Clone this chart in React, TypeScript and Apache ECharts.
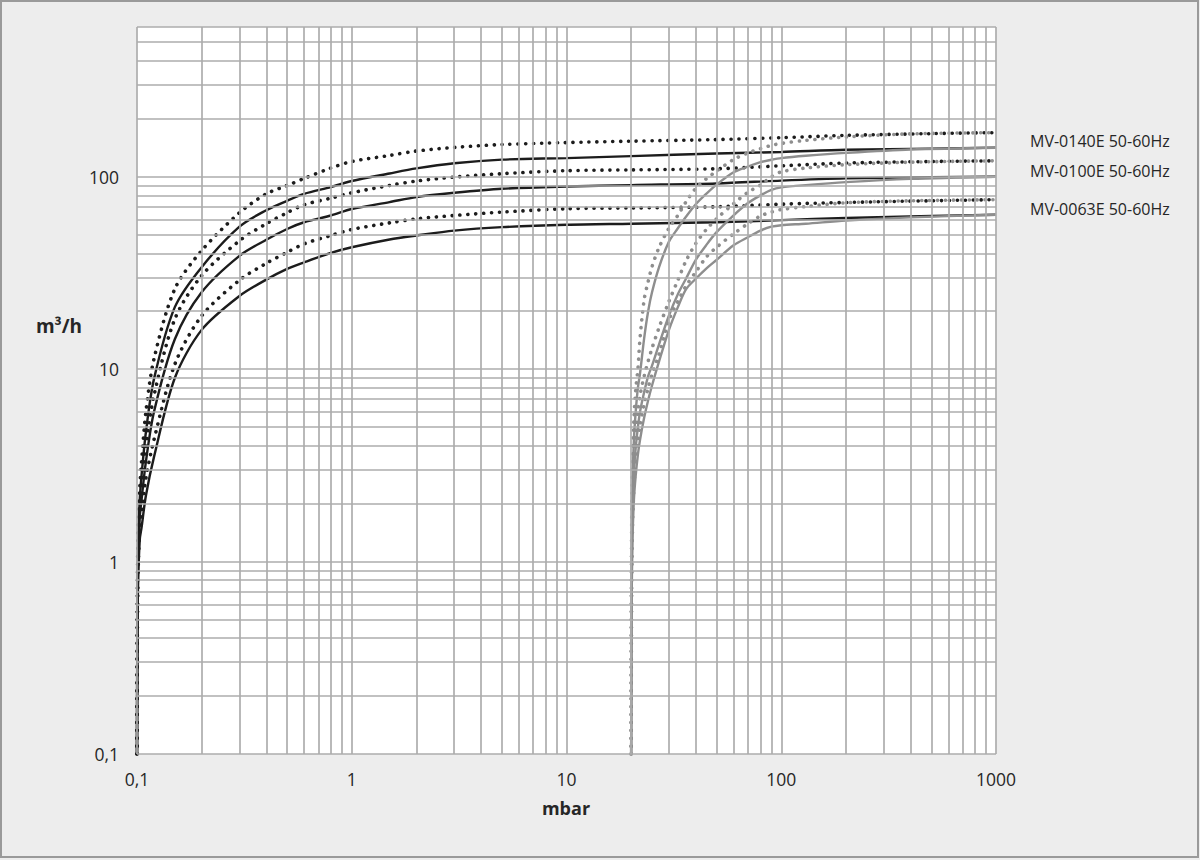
import React, { useEffect, useRef } from "react";
import * as echarts from "echarts";

// ---- pressure values (mbar) ----
const pBlack = [0.1, 0.1003, 0.101, 0.103, 0.105, 0.11, 0.12, 0.15, 0.2, 0.3, 0.4, 0.5, 0.6, 0.8, 1, 1.5, 2, 3, 5, 10, 20, 50, 100, 200, 500, 1000];
const pGray = [20, 20.1, 20.3, 20.6, 21, 21.5, 22, 23, 24, 25, 27, 30, 33, 36, 40, 45, 50, 60, 70, 80, 90, 100, 130, 200, 400, 1000];

// ---- pumping speed (m3/h), black curves ----
const mv140Dot = [0.1, 0.5, 1.3, 2.4, 3.3, 6, 11.3, 26.1, 41.3, 65, 81.5, 90, 98, 111, 120, 129, 136, 142, 147, 150.5, 153, 156, 159.5, 164, 167.5, 169.5];
const mv140Sol = [0.1, 0.45, 1.15, 2.1, 2.8, 4.7, 8.9, 21, 33.9, 55, 67, 75, 81.5, 88.4, 95, 104, 110.5, 117.5, 122.7, 125, 128, 132, 134.5, 138, 140, 141.6];
const mv100Dot = [0.1, 0.4, 1.0, 1.9, 2.5, 4.0, 7.3, 18.2, 30.6, 46.5, 57, 65, 71.5, 77.4, 82.5, 90.1, 95, 99.6, 103.7, 107.5, 108.5, 110, 114, 117.8, 120, 121];
const mv100Sol = [0.1, 0.35, 0.9, 1.7, 2.1, 3.3, 6.0, 14.3, 25.1, 38.8, 47, 53.5, 58, 62.9, 68, 73.8, 78.4, 82.5, 86.6, 89, 90.5, 92.3, 95.5, 98, 99.5, 100];
const mv063Dot = [0.1, 0.32, 0.8, 1.5, 1.8, 2.7, 4.3, 10.6, 18.9, 29, 35.5, 40.5, 44.8, 49.5, 53.2, 57.6, 60.4, 62.9, 65.5, 68.2, 68.8, 69.8, 72, 73.5, 75, 76];
const mv063Sol = [0.1, 0.28, 0.7, 1.3, 1.5, 2.2, 3.5, 9.0, 16.0, 24, 29.2, 33.2, 35.9, 40.2, 43.0, 47.2, 49.5, 52.5, 54.7, 56.3, 57, 58, 59.5, 61, 62.5, 63.5];

// ---- pumping speed (m3/h), gray curves ----
const mv140DotG = [0.1, 1.5, 3.3, 5.5, 7.8, 10, 14.5, 23, 28.5, 34, 43, 54, 63, 74, 87, 98, 107, 123, 133, 140, 145.5, 149, 154.5, 161, 167, 169.5];
const mv140SolG = [0.1, 1.2, 2.6, 4.3, 6.0, 8.0, 9.5, 14.5, 20, 25, 34, 46, 54, 62, 72, 82, 91, 105.5, 113, 119, 122.5, 125, 128.5, 133, 138.5, 141.5];
const mv100DotG = [0.1, 1.0, 2.1, 3.4, 4.6, 6.0, 7.3, 9.2, 11, 12.8, 16.5, 22.5, 29, 36.5, 45, 53.5, 60.5, 72.5, 83, 90.5, 100, 106, 111, 115.5, 119, 121];
const mv100SolG = [0.1, 0.85, 1.8, 2.9, 3.9, 5.0, 6.0, 7.6, 9.2, 10.4, 13.5, 19, 24.5, 29.5, 37, 44.5, 51.5, 63, 73, 80, 85.5, 88, 90.5, 93.8, 97.5, 100];
const mv063DotG = [0.1, 0.7, 1.5, 2.4, 3.3, 4.2, 5.1, 6.6, 8.0, 9.4, 12, 18, 22.5, 27, 32, 38.5, 43, 50.5, 57, 62.5, 65.5, 67.5, 70, 73.2, 75, 76];
const mv063SolG = [0.1, 0.6, 1.3, 2.1, 2.8, 3.6, 4.3, 5.6, 6.9, 8.2, 11, 16, 21, 26, 29.5, 33.5, 37, 44, 48.5, 52.5, 55, 56, 57, 59.2, 61.5, 63.5];

// ---- grid lines ----
const xGrid = [0.1, 0.2, 0.3, 0.4, 0.5, 0.6, 0.7, 0.8, 0.9, 1, 2, 3, 4, 5, 6, 7, 8, 9, 10, 20, 30, 40, 50, 60, 70, 80, 90, 100, 200, 300, 400, 500, 600, 700, 800, 900, 1000];
const yGrid = [0.1, 0.2, 0.3, 0.4, 0.5, 0.6, 0.7, 0.8, 0.9, 1, 2, 3, 4, 5, 6, 7, 8, 9, 10, 20, 30, 40, 50, 60, 70, 80, 90, 100, 200, 300, 400, 500, 600];

const legendLabels = ["MV-0140E 50-60Hz", "MV-0100E 50-60Hz", "MV-0063E 50-60Hz"];

const FONT = "'Open Sans', 'Noto Sans', sans-serif";
const BLACK = "#1c1c1c";
const GRAY = "#8e8e8e";

const zip = (xs: number[], ys: number[]) => xs.map((x, i) => [x, ys[i]]);

function curve(name: string, xs: number[], ys: number[], color: string, dotted: boolean, z: number) {
  return {
    name,
    type: "line",
    data: zip(xs, ys),
    showSymbol: false,
    symbol: "none",
    smooth: 0.3,
    silent: true,
    z,
    lineStyle: dotted
      ? { color, width: 3.6, type: [0.1, 7.8], cap: "round" }
      : { color, width: 2.4, type: "solid" },
  };
}

function fmtPow10(v: number) {
  const l = Math.log10(v);
  if (Math.abs(l - Math.round(l)) > 1e-6) return "";
  return v < 1 ? "0,1" : String(Math.round(v));
}

export default function App() {
  const ref = useRef<HTMLDivElement>(null);
  useEffect(() => {
    const chart = echarts.init(ref.current!, null, { renderer: "svg" });
    const option: any = {
      animation: false,
      backgroundColor: "#ededed",
      grid: {
        left: 137,
        top: 27,
        width: 859,
        height: 727,
        show: true,
        backgroundColor: "#ffffff",
        borderWidth: 0,
        containLabel: false,
      },
      xAxis: {
        type: "log",
        logBase: 10,
        min: 0.1,
        max: 1000,
        axisLine: { show: false },
        axisTick: { show: false },
        splitLine: { show: false },
        minorSplitLine: { show: false },
        axisLabel: {
          formatter: fmtPow10,
          fontFamily: FONT,
          fontSize: 17.5,
          color: "#262626",
          margin: 16,
        },
      },
      yAxis: {
        type: "log",
        logBase: 10,
        min: 0.1,
        max: 600,
        axisLine: { show: false },
        axisTick: { show: false },
        splitLine: { show: false },
        axisLabel: {
          formatter: fmtPow10,
          fontFamily: FONT,
          fontSize: 17.5,
          color: "#262626",
          margin: 18,
          showMaxLabel: false,
        },
      },
      graphic: [
        {
          type: "rect",
          shape: { x: 1, y: 1, width: 1197, height: 856 },
          style: { fill: "none", stroke: "#9a9a9a", lineWidth: 2 },
          silent: true,
        },
        {
          type: "text",
          x: 59,
          y: 326,
          style: {
            text: "m³/h",
            font: `bold 19px ${FONT}`,
            fill: "#262626",
            textAlign: "center",
            textVerticalAlign: "middle",
          },
        },
        {
          type: "text",
          x: 566,
          y: 808,
          style: {
            text: "mbar",
            font: `bold 18px ${FONT}`,
            fill: "#262626",
            textAlign: "center",
            textVerticalAlign: "middle",
          },
        },
        ...legendLabels.map((t, i) => ({
          type: "text",
          x: 1030,
          y: [141, 171, 209][i],
          style: {
            text: t,
            font: `16px ${FONT}`,
            fill: "#262626",
            textAlign: "left",
            textVerticalAlign: "middle",
          },
        })),
      ],
      series: [
        {
          type: "line",
          data: [[0.1, 0.1]],
          symbol: "none",
          showSymbol: false,
          lineStyle: { opacity: 0 },
          silent: true,
          z: 1,
          markLine: {
            silent: true,
            symbol: ["none", "none"],
            label: { show: false },
            lineStyle: { color: "#adadad", width: 1.7, type: "solid" },
            emphasis: { disabled: true },
            data: [
              ...xGrid.map((v) => ({ xAxis: v })),
              ...yGrid.map((v) => ({ yAxis: v })),
            ],
          },
        },
        curve("MV-0140E 60Hz", pBlack, mv140Dot, BLACK, true, 3),
        curve("MV-0140E 50Hz", pBlack, mv140Sol, BLACK, false, 3),
        curve("MV-0100E 60Hz", pBlack, mv100Dot, BLACK, true, 3),
        curve("MV-0100E 50Hz", pBlack, mv100Sol, BLACK, false, 3),
        curve("MV-0063E 60Hz", pBlack, mv063Dot, BLACK, true, 3),
        curve("MV-0063E 50Hz", pBlack, mv063Sol, BLACK, false, 3),
        curve("MV-0140E 60Hz GB", pGray, mv140DotG, GRAY, true, 4),
        curve("MV-0140E 50Hz GB", pGray, mv140SolG, GRAY, false, 4),
        curve("MV-0100E 60Hz GB", pGray, mv100DotG, GRAY, true, 4),
        curve("MV-0100E 50Hz GB", pGray, mv100SolG, GRAY, false, 4),
        curve("MV-0063E 60Hz GB", pGray, mv063DotG, GRAY, true, 4),
        curve("MV-0063E 50Hz GB", pGray, mv063SolG, GRAY, false, 4),
      ],
    };
    chart.setOption(option);
    return () => chart.dispose();
  }, []);
  return (
    <div
      ref={ref}
      style={{ position: "fixed", left: 0, top: 0, width: 1200, height: 860 }}
    />
  );
}
